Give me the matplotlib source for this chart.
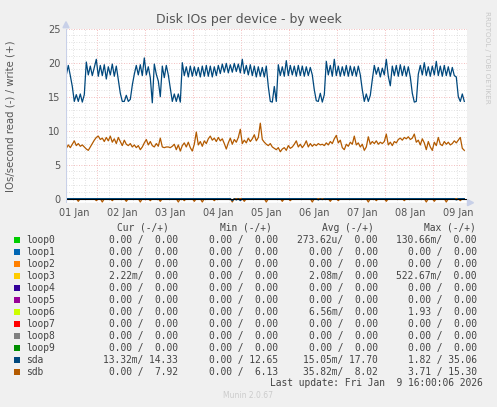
import numpy as np
import matplotlib
matplotlib.use("Agg")
import matplotlib.pyplot as plt
from matplotlib.patches import Rectangle

# ---------------- data (hourly samples, 200 h window) ----------------
day_labels = ["01 Jan", "02 Jan", "03 Jan", "04 Jan", "05 Jan",
              "06 Jan", "07 Jan", "08 Jan", "09 Jan"]
yticks = [0, 5, 10, 15, 20, 25]

sda_write = [
    18.2, 19.6, 18.1, 16.5,
    14.3, 15.3, 14.3, 15.4, 14.2, 15.3,
    20.1,
    18.2, 19.5, 18.1, 19.3, 20.5, 18.0, 19.6, 18.1, 19.7, 17.6, 19.4, 18.2, 19.8, 18.0, 19.5, 17.5,
    15.5,
    14.3, 14.3, 15.2, 14.3, 14.6, 16.7,
    18.3, 19.6, 18.2, 19.7, 18.1, 20.7, 18.2, 19.4, 17.8,
    14.1,
    19.8, 18.3, 17.3, 15.0, 19.5, 17.8, 19.6, 18.2, 16.2,
    14.3, 15.4, 14.3, 15.4, 14.2,
    20.0,
    18.1, 19.4, 17.9, 19.5, 18.0, 19.4, 18.1, 19.3, 17.9, 19.5,
    18.0, 19.6, 18.0, 19.5, 17.9, 19.4, 18.1, 19.6, 18.4, 19.8,
    18.6, 19.9, 18.5, 19.7, 18.6, 19.9, 18.7, 19.8, 18.5, 20.5,
    18.4, 19.6, 18.2, 19.7, 18.1, 19.5, 17.9, 19.4, 18.0, 19.3,
    17.9, 19.5,
    16.5, 14.3, 14.2, 16.5, 14.3, 19.7,
    18.1, 19.4, 18.0, 20.3, 18.1, 19.6, 18.2, 19.5, 18.0, 19.6, 18.1, 19.5, 18.0, 19.4, 18.1, 19.3, 18.2,
    16.0,
    14.4, 14.3, 15.5, 14.2, 15.3,
    20.2, 18.2, 19.6, 18.0, 20.5, 18.1, 19.5, 18.0, 19.4, 18.1, 19.6, 18.0, 19.5, 18.1, 19.4, 18.0, 19.5, 18.2,
    16.0,
    14.3, 15.4, 14.3, 15.2,
    17.5,
    19.6, 18.3, 19.3, 17.9, 19.2, 18.2, 20.5, 18.0, 16.6, 19.5, 18.1, 19.6, 18.0, 19.7, 18.1, 19.5, 18.0, 19.4, 17.9,
    15.5, 14.2, 14.3,
    18.3, 19.6, 18.2, 20.0, 18.1, 19.4, 18.0, 19.5, 18.2, 20.2, 18.1, 19.5, 18.0, 19.6, 18.1, 19.4, 18.0, 19.3, 18.1, 17.9,
    15.0, 14.3, 15.4, 14.3,
]

sdb_write = [
    7.4, 7.9, 7.5, 8.0, 8.5, 7.8, 8.1, 7.7, 7.9, 7.6,
    7.3, 7.1, 7.6, 8.1, 8.6, 9.0, 9.2, 8.7, 8.9, 8.4,
    9.0, 8.5, 9.2, 8.3, 8.8, 8.1, 9.0, 8.4, 7.8, 8.6,
    8.0, 7.8, 8.1, 7.6, 7.9, 7.5, 7.8, 7.2, 7.6, 8.2,
    8.7, 7.9, 8.4, 7.8, 7.6, 8.1, 7.7, 8.9, 7.6, 7.5,
    7.6, 7.6, 7.5, 7.7, 8.0, 7.2, 7.9, 7.0, 7.8, 8.2,
    7.6, 8.3, 7.5, 7.0, 8.0, 9.8, 7.9, 8.4, 7.7, 8.5,
    8.1, 8.8, 9.2, 8.6, 8.9, 8.4, 9.0, 8.5, 8.8, 8.1,
    7.3, 8.2, 8.9, 8.0, 8.7, 8.3, 9.0, 10.2, 8.1, 8.6,
    8.2, 8.9, 8.4, 8.8, 9.4, 8.5, 9.0, 11.1, 8.7, 8.3,
    8.0, 7.8, 8.1, 7.6, 7.4, 7.2, 7.5, 6.9, 7.3, 7.5,
    7.1, 7.8, 7.4, 7.6, 8.0, 8.5, 7.6, 8.0, 7.5, 7.9,
    8.5, 7.6, 8.1, 7.7, 8.0, 7.8, 8.1, 7.9, 8.0, 7.8,
    8.2, 7.9, 8.4, 8.1, 8.8, 9.3, 8.2, 8.6, 7.5, 7.2,
    8.0, 7.7, 8.3, 8.0, 9.2, 7.9, 8.2, 7.6, 8.0, 7.1,
    7.6, 9.1, 8.0, 8.4, 8.1, 8.5, 8.0, 8.3, 8.1, 8.4,
    9.5, 7.9, 8.3, 7.8, 8.4, 8.2, 8.7, 8.9, 8.6, 9.0,
    8.8, 9.1, 8.7, 8.9, 9.5, 8.3, 8.6, 7.9, 8.8, 8.2,
    7.2, 8.4, 7.6, 7.1, 8.3, 7.8, 9.0, 8.0, 7.8, 8.4,
    8.0, 8.3, 7.9, 8.1, 8.5, 8.2, 8.6, 9.0, 7.4, 7.1,
]

# read side (plotted negative): sparse spikes, (sample index, value)
sdb_read_idx = [6, 15, 18, 23, 30, 37, 42, 47, 56, 59, 64, 68, 74, 83, 89, 100,
                108, 112, 123, 132, 136, 151, 155, 160, 169, 180, 184, 190, 197]
sdb_read_val = [0.4, 0.3, 0.5, 0.3, 0.4, 0.5, 0.3, 0.4, 0.5, 0.3, 0.4, 0.5, 0.3, 0.5, 0.4, 0.5,
                0.4, 0.3, 0.5, 0.4, 0.3, 0.5, 0.3, 0.4, 0.3, 0.5, 0.4, 0.5, 0.3]
sda_read_idx = [83, 85, 87, 126, 128, 195]
sda_read_val = [0.3, 0.2, 0.3, 0.2, 0.15, 0.2]

# legend table
leg_names = ["loop0", "loop1", "loop2", "loop3", "loop4", "loop5",
             "loop6", "loop7", "loop8", "loop9", "sda", "sdb"]
leg_colors = ["#00CC00", "#0066B3", "#FF8000", "#FFCC00", "#330099", "#990099",
              "#CCFF00", "#FF0000", "#808080", "#008F00", "#00487D", "#B35A00"]
leg_cur = ["0.00 /  0.00", "0.00 /  0.00", "0.00 /  0.00", "2.22m/  0.00",
           "0.00 /  0.00", "0.00 /  0.00", "0.00 /  0.00", "0.00 /  0.00",
           "0.00 /  0.00", "0.00 /  0.00", "13.32m/ 14.33", "0.00 /  7.92"]
leg_min = ["0.00 /  0.00"] * 10 + ["0.00 / 12.65", "0.00 /  6.13"]
leg_avg = ["273.62u/  0.00", "0.00 /  0.00", "0.00 /  0.00", "2.08m/  0.00",
           "0.00 /  0.00", "0.00 /  0.00", "6.56m/  0.00", "0.00 /  0.00",
           "0.00 /  0.00", "0.00 /  0.00", "15.05m/ 17.70", "35.82m/  8.02"]
leg_max = ["130.66m/  0.00", "0.00 /  0.00", "0.00 /  0.00", "522.67m/  0.00",
           "0.00 /  0.00", "0.00 /  0.00", "1.93 /  0.00", "0.00 /  0.00",
           "0.00 /  0.00", "0.00 /  0.00", "1.82 / 35.06", "3.71 / 15.30"]
col_headers = ["Cur (-/+)", "Min (-/+)", "Avg (-/+)", "Max (-/+)"]

# ---------------- figure ----------------
W, H = 497, 407
fig = plt.figure(figsize=(W / 100, H / 100), dpi=100, facecolor="#F0F0F0")

def fx(px):
    return px / W

def fy(py):
    return 1 - py / H

L, R, T, B = 66, 466.5, 28.7, 202.7
ax = fig.add_axes([fx(L), fy(B), (R - L) / W, (B - T) / H])
ax.set_facecolor("white")

n = len(sda_write)
x = np.arange(n)
ax.set_xlim(-0.15, 200.1)
ax.set_ylim(-0.6, 25)

# grid
for v in np.arange(3.5, 200, 6):
    major = abs(((v - 15.5) / 24) - round((v - 15.5) / 24)) < 1e-6
    if not major:
        ax.axvline(v, color="#D8D8D8", lw=0.6, ls=(0, (1, 2)), zorder=1)
for v in np.arange(15.5, 200, 24):
    ax.axvline(v, color="#F0A8A8", lw=0.6, ls=(0, (1, 2)), zorder=1)
for v in range(1, 26):
    if v % 5:
        ax.axhline(v, color="#D8D8D8", lw=0.6, ls=(0, (1, 2)), zorder=1)
    else:
        ax.axhline(v, color="#F0A8A8", lw=0.6, ls=(0, (1, 2)), zorder=1)

sdb_read = np.zeros(n)
sdb_read[sdb_read_idx] = sdb_read_val
sda_read = np.zeros(n)
sda_read[sda_read_idx] = sda_read_val

ax.plot(x, -sdb_read, color="#B35A00", lw=0.9, zorder=3)
ax.plot(x, -sda_read, color="#00487D", lw=0.9, zorder=3)
ax.plot(x, sdb_write, color="#B35A00", lw=0.9, zorder=3)
ax.plot(x, sda_write, color="#00487D", lw=0.9, zorder=3)
ax.axhline(0, color="black", lw=0.8, zorder=4)

for s in ax.spines.values():
    s.set_visible(False)
ax.axvline(-0.15, color="#C8D0E8", lw=0.8, zorder=5)
ax.axhline(-0.6, color="#C8D0E8", lw=0.8, zorder=5)
# axis arrows
fig.patches.append(plt.Polygon([[fx(L - 3), fy(T - 1)], [fx(L + 3), fy(T - 1)], [fx(L), fy(T - 7)]],
                               closed=True, transform=fig.transFigure, color="#C8D0E8"))
fig.patches.append(plt.Polygon([[fx(R + 1), fy(B - 3)], [fx(R + 1), fy(B + 3)], [fx(R + 7), fy(B)]],
                               closed=True, transform=fig.transFigure, color="#C8D0E8"))

ax.set_xticks(np.arange(4.1, 200, 24)[:len(day_labels)])
ax.set_xticklabels(day_labels)
ax.set_yticks(yticks)
ax.set_yticklabels([str(v) for v in yticks])
ax.tick_params(axis="x", length=0, pad=4, labelsize=7, labelcolor="#555555")
ax.tick_params(axis="y", length=0, pad=4, labelsize=7, labelcolor="#555555")

fig.text(fx(W / 2), fy(20), "Disk IOs per device - by week", ha="center", va="center",
         fontsize=9, color="#555555", family="DejaVu Sans")
fig.text(fx(11), fy((T + B) / 2), "IOs/second read (-) / write (+)", rotation=90,
         ha="center", va="center", fontsize=7.3, color="#555555")
fig.text(fx(487), fy(57), "RRDTOOL / TOBI OETIKER", rotation=270, ha="center", va="center",
         fontsize=5.2, color="#C8C8C8")

# legend
mono = "DejaVu Sans Mono"
fs = 6.9
tc = "#444444"
hdr_right = [169, 272, 374, 476]
val_right = [178, 278, 377.7, 476.7]
for hx, h in zip(hdr_right, col_headers):
    fig.text(fx(hx), fy(227.5), h, ha="right", va="center", family=mono, fontsize=fs, color=tc)
for k, name in enumerate(leg_names):
    yy = 239.7 + 12 * k
    fig.patches.append(Rectangle((fx(14), fy(yy + 3)), 6 / W, 6 / H, transform=fig.transFigure,
                                 facecolor=leg_colors[k], edgecolor="none"))
    fig.text(fx(26.5), fy(yy), name, ha="left", va="center", family=mono, fontsize=fs, color=tc)
    for col, vals in zip(val_right, [leg_cur, leg_min, leg_avg, leg_max]):
        fig.text(fx(col), fy(yy), vals[k], ha="right", va="center", family=mono, fontsize=fs, color=tc)
fig.text(fx(482.7), fy(383.3), "Last update: Fri Jan  9 16:00:06 2026", ha="right", va="center",
         family=mono, fontsize=fs, color=tc)
fig.text(fx(248), fy(395.7), "Munin 2.0.67", ha="center", va="center", fontsize=5.5, color="#CCCCCC")

fig.savefig("out.png", dpi=100, facecolor=fig.get_facecolor())
